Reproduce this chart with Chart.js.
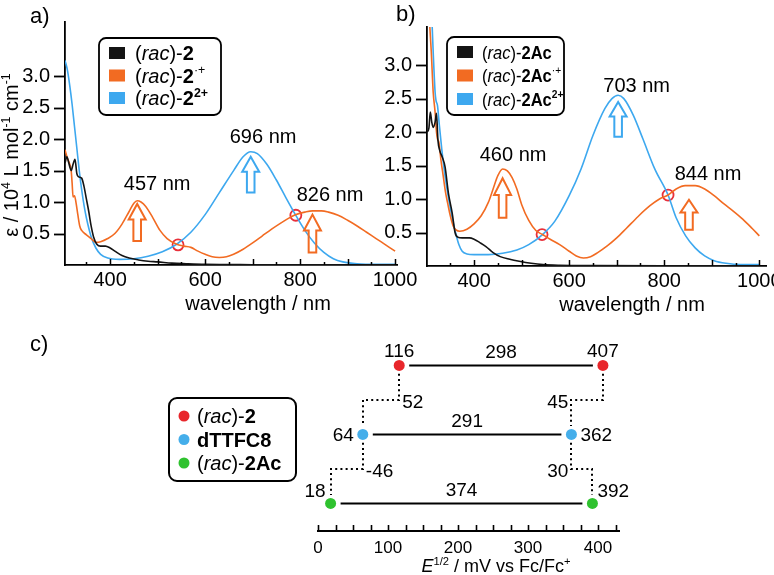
<!DOCTYPE html>
<html><head><meta charset="utf-8">
<script src="https://cdn.jsdelivr.net/npm/chart.js@4.4.0/dist/chart.umd.min.js"></script>
<style>
html,body{margin:0;padding:0;background:#fff;}
#wrap{position:relative;width:774px;height:575px;overflow:hidden;}
canvas{position:absolute;left:0;top:0;}
</style></head><body>
<div id="wrap">
<canvas id="ca" width="774" height="575"></canvas>
<canvas id="cb" width="774" height="575"></canvas>
<canvas id="cc" width="774" height="575"></canvas>
</div>
<script>
// ---------------- DATA ----------------
const X_TICK_LABELS = [400, 600, 800, 1000];
const Y_TICK_LABELS = [0.5, 1.0, 1.5, 2.0, 2.5, 3.0];

// Panel a: (rac)-2
const A_BLACK_X = [305,309,313,318,322,326,330,334,340,345,350,355,360,365,372,380,390,400,410,425,440,460,480,500,530,560,600,700,800,900,1000];
const A_BLACK_Y = [1.62,1.72,1.62,1.5,1.6,1.68,1.45,1.4,1.38,1.25,1.05,0.85,0.62,0.45,0.33,0.3,0.3,0.27,0.22,0.15,0.11,0.08,0.06,0.05,0.03,0.02,0.01,0.005,0.003,0.002,0.002];
const A_ORANGE_X = [305,310,315,318,320,322,325,328,332,336,340,350,360,370,380,395,410,425,440,450,457,465,475,490,505,520,540,555,570,585,600,615,630,645,660,680,700,720,740,760,780,790,810,826,845,860,880,900,920,940,960,980,1000];
const A_ORANGE_Y = [1.83,1.7,1.6,1.5,1.3,1.08,1.1,1.0,0.8,0.62,0.55,0.48,0.42,0.36,0.37,0.42,0.5,0.65,0.85,0.98,1.02,1.0,0.93,0.75,0.55,0.42,0.33,0.3,0.28,0.22,0.17,0.13,0.12,0.13,0.17,0.25,0.35,0.46,0.57,0.67,0.76,0.8,0.84,0.86,0.86,0.84,0.79,0.71,0.62,0.52,0.42,0.32,0.22];
const A_BLUE_X = [305,310,315,320,325,330,335,340,345,350,360,370,380,395,420,450,480,510,540,570,600,630,660,680,696,710,730,750,770,790,810,830,850,870,890,920,960,1000];
const A_BLUE_Y = [3.25,3.1,2.85,2.55,2.2,1.85,1.5,1.2,0.95,0.75,0.45,0.27,0.17,0.11,0.09,0.1,0.14,0.21,0.33,0.52,0.8,1.15,1.5,1.72,1.8,1.77,1.6,1.35,1.07,0.8,0.55,0.35,0.2,0.1,0.05,0.02,0.01,0.01];
const A_ISO_X = [543, 791];
const A_ISO_Y = [0.32, 0.79];
const A_ARROW_X = [457, 696, 826];
const A_ARROW_FROM = [0.38, 1.15, 0.2];
const A_ARROW_TO = [0.97, 1.72, 0.8];
const A_PEAK_TEXT = ['457 nm', '696 nm', '826 nm'];
const A_PEAK_TX = [499, 722, 863];
const A_PEAK_TY = [1.3, 2.05, 1.13];

// Panel b: (rac)-2Ac
const B_BLACK_X = [301,305,308,311,314,318,321,324,328,333,339,346,354,360,366,375,390,400,412,425,440,455,475,495,520,545,580,650,800,1000];
const B_BLACK_Y = [2.0,2.06,2.3,2.15,2.07,2.15,2.28,1.88,1.72,1.63,1.48,1.09,0.79,0.5,0.43,0.42,0.42,0.4,0.35,0.29,0.2,0.14,0.1,0.07,0.04,0.02,0.01,0.005,0.003,0.002];
const B_ORANGE_X = [301,305,310,314,318,321,323,326,330,335,340,345,350,356,362,370,385,400,415,430,440,450,460,470,480,490,500,515,530,544,560,580,600,615,630,645,660,680,700,720,745,770,790,808,825,844,865,885,905,925,945,965,985,1000];
const B_ORANGE_Y = [4.3,3.8,3.2,2.6,2.3,2.0,1.9,1.85,1.6,1.35,1.1,0.92,0.75,0.6,0.54,0.52,0.55,0.63,0.75,0.95,1.15,1.35,1.45,1.42,1.32,1.15,0.92,0.68,0.53,0.47,0.4,0.32,0.22,0.15,0.12,0.14,0.2,0.3,0.42,0.56,0.74,0.9,1.0,1.06,1.15,1.2,1.2,1.15,1.05,0.93,0.82,0.7,0.56,0.45];
const B_BLUE_X = [301,305,310,314,318,320,323,327,332,337,342,347,354,361,368,375,385,400,430,460,490,515,544,570,600,625,650,675,690,703,715,735,755,780,808,825,845,865,885,905,930,960,1000];
const B_BLUE_Y = [5.0,4.5,3.9,3.2,2.6,2.47,2.4,2.1,1.75,1.45,1.2,0.98,0.72,0.5,0.32,0.22,0.18,0.17,0.17,0.19,0.24,0.32,0.47,0.67,1.05,1.45,1.95,2.35,2.5,2.55,2.5,2.25,1.9,1.45,1.06,0.72,0.45,0.27,0.15,0.08,0.04,0.02,0.02];
const B_ISO_X = [543, 808];
const B_ISO_Y = [0.47, 1.06];
const B_ARROW_X = [460, 703, 852];
const B_ARROW_FROM = [0.72, 1.93, 0.54];
const B_ARROW_TO = [1.31, 2.45, 0.99];
const B_PEAK_TEXT = ['460 nm', '703 nm', '844 nm'];
const B_PEAK_TX = [482, 742, 892];
const B_PEAK_TY = [1.67, 2.7, 1.39];

// Panel c: E1/2 (mV vs Fc/Fc+)
const C_NAMES = ['(rac)-2', 'dTTFC8', '(rac)-2Ac'];
const C_E1 = [116, 64, 18];
const C_E2 = [407, 362, 392];
const C_ROW = [3, 2, 1];
const C_DELTA = ['298', '291', '374'];
const C_SHIFT_LEFT = ['52', '-46'];
const C_SHIFT_RIGHT = ['45', '30'];
const C_TICK_LABELS = [0, 100, 200, 300, 400];

// ---------------- STYLE / HELPERS ----------------
const FAM = '"Liberation Sans", Arial, Helvetica, sans-serif';
Chart.defaults.font.family = FAM;
Chart.defaults.color = '#000';
const COL_BLACK = '#141414', COL_ORANGE = '#f26b22', COL_BLUE = '#3da8ef';
const COL_ISO = '#e8303a';
const COL_RED = '#e8262b', COL_LBLUE = '#45aeea', COL_GREEN = '#2fc22f';

function fontStr(style, size){
  let f = '';
  if (style.includes('i')) f += 'italic ';
  if (style.includes('b')) f += 'bold ';
  return f + size + 'px ' + FAM;
}
function drawRich(ctx, x, yMid, segs, size, align, sx){
  sx = sx || 1;
  let w = 0;
  for (const [t, s] of segs){ ctx.font = fontStr(s, s.includes('s') ? size*0.62 : size); w += ctx.measureText(t).width * sx; }
  let cx = align === 'center' ? x - w/2 : (align === 'right' ? x - w : x);
  const base = yMid + size*0.36;
  ctx.textAlign = 'left'; ctx.textBaseline = 'alphabetic'; ctx.fillStyle = '#000';
  for (const [t, s] of segs){
    const sup = s.includes('s');
    ctx.font = fontStr(s, sup ? size*0.62 : size);
    ctx.save(); ctx.translate(cx, sup ? base - size*0.42 : base); ctx.scale(sx, 1);
    ctx.fillText(t, 0, 0); ctx.restore();
    cx += ctx.measureText(t).width * sx;
  }
}
function drawArrow(ctx, x, yB, yT, color){
  const L = yB - yT, hh = L*0.42, hw = 8.5, sw = 3.8;
  ctx.save();
  ctx.beginPath();
  ctx.moveTo(x-sw, yB); ctx.lineTo(x-sw, yT+hh); ctx.lineTo(x-hw, yT+hh); ctx.lineTo(x, yT);
  ctx.lineTo(x+hw, yT+hh); ctx.lineTo(x+sw, yT+hh); ctx.lineTo(x+sw, yB); ctx.closePath();
  ctx.lineWidth = 2; ctx.strokeStyle = color; ctx.lineJoin = 'miter'; ctx.stroke();
  ctx.restore();
}
function roundBox(ctx, x, y, w, h, r, lw){
  ctx.save(); ctx.beginPath();
  ctx.moveTo(x+r, y); ctx.lineTo(x+w-r, y); ctx.arcTo(x+w, y, x+w, y+r, r);
  ctx.lineTo(x+w, y+h-r); ctx.arcTo(x+w, y+h, x+w-r, y+h, r);
  ctx.lineTo(x+r, y+h); ctx.arcTo(x, y+h, x, y+h-r, r);
  ctx.lineTo(x, y+r); ctx.arcTo(x, y, x+r, y, r); ctx.closePath();
  ctx.fillStyle = '#fff'; ctx.fill();
  ctx.lineWidth = lw; ctx.strokeStyle = '#000'; ctx.stroke(); ctx.restore();
}
const zip = (xs, ys) => xs.map((x, i) => ({x, y: ys[i]}));
const AXIS_H = 40, AXIS_W = 60, AXIS_HC = 30;
const fixX = h => s => { s.height = h; s.paddingLeft = 0; s.paddingRight = 0; };
const fixY = w => s => { s.width = w; s.paddingTop = 0; s.paddingBottom = 0; };

// ---------------- SPECTRUM PANELS ----------------
function makeSpectrum(id, P){
  const lineDs = (xs, ys, c) => ({ data: zip(xs, ys), borderColor: c, borderWidth: 1.6, pointRadius: 0,
    fill: false, cubicInterpolationMode: 'monotone' });
  const datasets = [
    lineDs(P.bx, P.by, COL_BLACK), lineDs(P.ox, P.oy, COL_ORANGE), lineDs(P.ux, P.uy, COL_BLUE),
    { data: zip(P.isoX, P.isoY), showLine: false, pointRadius: 5.5, pointBorderColor: COL_ISO,
      pointBackgroundColor: 'rgba(0,0,0,0)', pointBorderWidth: 1.8 }
  ];
  const deco = {
    id: 'deco' + id,
    afterDatasetsDraw(chart){
      const ctx = chart.ctx, xs = chart.scales.x, ys = chart.scales.y;
      P.arX.forEach((v, i) => drawArrow(ctx, xs.getPixelForValue(v), ys.getPixelForValue(P.arFrom[i]),
        ys.getPixelForValue(P.arTo[i]), P.arCol[i]));
      P.pkText.forEach((t, i) => drawRich(ctx, xs.getPixelForValue(P.pkX[i]), ys.getPixelForValue(P.pkY[i]),
        [[t, 'n']], 20, 'center'));
    },
    afterDraw(chart){
      const ctx = chart.ctx, xs = chart.scales.x, ys = chart.scales.y, ca = chart.chartArea;
      ctx.save(); ctx.strokeStyle = '#000'; ctx.lineWidth = 1.5;
      for (let v = 350; v <= 1000; v += 50){
        const px = Math.round(xs.getPixelForValue(v)) + 0.5;
        const len = v % 100 === 0 ? 6 : 3;
        ctx.beginPath(); ctx.moveTo(px, ca.bottom); ctx.lineTo(px, ca.bottom - len); ctx.stroke();
      }
      ctx.lineWidth = 1.8;
      Y_TICK_LABELS.forEach(v => {
        const py = Math.round(ys.getPixelForValue(v)) + 0.5;
        ctx.beginPath(); ctx.moveTo(ca.left - 11, py); ctx.lineTo(ca.left, py); ctx.stroke();
      });
      ctx.restore();
      const L = P.leg;
      roundBox(ctx, L.x, L.y, L.w, L.h, 7, 1.8);
      P.legItems.forEach((it, i) => {
        const cy = L.y + L.r0 + i*L.dy;
        ctx.fillStyle = it.c; ctx.fillRect(L.x + L.sx, cy - 6, 16, 12);
        drawRich(ctx, L.x + L.tx, cy, it.segs, L.fs, 'left', L.scx);
      });
      drawRich(ctx, ca.left + P.titleDx, ca.bottom + 38, [['wavelength / nm', 'n']], 20, 'center');
      drawRich(ctx, P.letter[1], P.letter[2], [[P.letter[0], 'n']], 22, 'left');
      if (P.yTitle){
        ctx.save(); ctx.translate(11, 155); ctx.rotate(-Math.PI/2);
        drawRich(ctx, 0, 0, [['\u03b5 / 10', 'n'], ['4', 's'], [' L mol', 'n'], ['-1', 's'], [' cm', 'n'], ['-1', 's']], 20, 'center');
        ctx.restore();
      }
    }
  };
  return new Chart(document.getElementById(id), {
    type: 'line',
    data: { datasets },
    options: {
      responsive: false, animation: false, devicePixelRatio: 1, events: [],
      layout: { autoPadding: false, padding: P.pad },
      plugins: { legend: { display: false }, tooltip: { enabled: false } },
      scales: {
        x: { type: 'linear', min: P.xmin, max: P.xmax, afterFit: fixX(AXIS_H),
          grid: { display: false, drawTicks: false }, border: { display: true, color: '#000', width: 1.8 },
          ticks: { stepSize: 200, includeBounds: false, maxRotation: 0, autoSkip: false, padding: 3,
            font: { size: 20 }, color: '#000',
            callback: v => X_TICK_LABELS.includes(v) ? String(v) : '' } },
        y: { type: 'linear', min: 0, max: P.ymax, afterFit: fixY(AXIS_W),
          grid: { display: false, drawTicks: false }, border: { display: true, color: '#000', width: 1.8 },
          ticks: { stepSize: 0.5, includeBounds: false, padding: 15, font: { size: 20 }, color: '#000',
            callback: v => Y_TICK_LABELS.includes(v) ? v.toFixed(1) : '' } }
      }
    },
    plugins: [deco]
  });
}

const rac = (tail) => [['(', 'n'], ['rac', 'i'], [')-', 'n']].concat(tail);

makeSpectrum('ca', {
  bx: A_BLACK_X, by: A_BLACK_Y, ox: A_ORANGE_X, oy: A_ORANGE_Y, ux: A_BLUE_X, uy: A_BLUE_Y,
  isoX: A_ISO_X, isoY: A_ISO_Y,
  arX: A_ARROW_X, arFrom: A_ARROW_FROM, arTo: A_ARROW_TO, arCol: [COL_ORANGE, COL_BLUE, COL_ORANGE],
  pkText: A_PEAK_TEXT, pkX: A_PEAK_TX, pkY: A_PEAK_TY,
  xmin: 305, xmax: 1004, ymax: 3.86,
  pad: { left: 65 - AXIS_W, top: 22, right: 774 - 397, bottom: 575 - 265 - AXIS_H },
  leg: { x: 99, y: 38, w: 122, h: 77, r0: 15, dy: 22.5, sx: 10, tx: 36, fs: 20, scx: 1 },
  legItems: [
    { c: COL_BLACK, segs: rac([['2', 'b']]) },
    { c: COL_ORANGE, segs: rac([['2', 'b'], ['\u00b7+', 's']]) },
    { c: COL_BLUE, segs: rac([['2', 'b'], ['2+', 'bs']]) }
  ],
  titleDx: 193, letter: ['a)', 30, 15], yTitle: true
});

makeSpectrum('cb', {
  bx: B_BLACK_X, by: B_BLACK_Y, ox: B_ORANGE_X, oy: B_ORANGE_Y, ux: B_BLUE_X, uy: B_BLUE_Y,
  isoX: B_ISO_X, isoY: B_ISO_Y,
  arX: B_ARROW_X, arFrom: B_ARROW_FROM, arTo: B_ARROW_TO, arCol: [COL_ORANGE, COL_BLUE, COL_ORANGE],
  pkText: B_PEAK_TEXT, pkX: B_PEAK_TX, pkY: B_PEAK_TY,
  xmin: 301, xmax: 1014, ymax: 3.57,
  pad: { left: 427 - AXIS_W, top: 27, right: 774 - 766, bottom: 575 - 266 - AXIS_H },
  leg: { x: 447, y: 37, w: 117, h: 78, r0: 15, dy: 23.5, sx: 10, tx: 35, fs: 19, scx: 0.87 },
  legItems: [
    { c: COL_BLACK, segs: rac([['2Ac', 'b']]) },
    { c: COL_ORANGE, segs: rac([['2Ac', 'b'], ['\u00b7+', 's']]) },
    { c: COL_BLUE, segs: rac([['2Ac', 'b'], ['2+', 'bs']]) }
  ],
  titleDx: 205, letter: ['b)', 396, 13], yTitle: false
});

// ---------------- PANEL C ----------------
const C_COLORS = [COL_RED, COL_LBLUE, COL_GREEN];
const cDatasets = C_NAMES.map((n, i) => ({
  label: n,
  data: [{x: C_E1[i], y: C_ROW[i]}, {x: C_E2[i], y: C_ROW[i]}],
  pointRadius: 5.5, pointBackgroundColor: C_COLORS[i], pointBorderWidth: 0, showLine: false
}));
const decoC = {
  id: 'decoC',
  beforeDatasetsDraw(chart){
    const ctx = chart.ctx, xs = chart.scales.x, ys = chart.scales.y;
    ctx.save();
    ctx.strokeStyle = '#000'; ctx.lineWidth = 2;
    C_ROW.forEach((r, i) => {
      const py = ys.getPixelForValue(r);
      ctx.beginPath(); ctx.moveTo(xs.getPixelForValue(C_E1[i]) + 10, py);
      ctx.lineTo(xs.getPixelForValue(C_E2[i]) - 10, py); ctx.stroke();
    });
    ctx.setLineDash([2, 3.2]); ctx.lineWidth = 2; ctx.lineCap = 'butt';
    const poly = pts => { ctx.beginPath(); pts.forEach(([vx, vy], k) => {
      const X = Math.round(xs.getPixelForValue(vx)), Y = ys.getPixelForValue(vy);
      if (k === 0) ctx.moveTo(X, Y); else ctx.lineTo(X, Y); }); ctx.stroke(); };
    for (let i = 0; i < C_ROW.length - 1; i++){
      const mid = (C_ROW[i] + C_ROW[i+1]) / 2;
      poly([[C_E1[i], C_ROW[i] - 0.12], [C_E1[i], mid], [C_E1[i+1], mid], [C_E1[i+1], C_ROW[i+1] + 0.12]]);
      poly([[C_E2[i], C_ROW[i] - 0.12], [C_E2[i], mid], [C_E2[i+1], mid], [C_E2[i+1], C_ROW[i+1] + 0.12]]);
    }
    ctx.restore();
  },
  afterDraw(chart){
    const ctx = chart.ctx, xs = chart.scales.x, ys = chart.scales.y, ca = chart.chartArea;
    const fs = 19;
    ctx.save(); ctx.strokeStyle = '#000'; ctx.lineWidth = 1.6;
    for (let v = 0; v <= 425; v += 25){
      const px = Math.round(xs.getPixelForValue(v)) + 0.5;
      ctx.beginPath(); ctx.moveTo(px, ca.bottom); ctx.lineTo(px, ca.bottom - 6); ctx.stroke();
    }
    ctx.restore();
    C_ROW.forEach((r, i) => {
      const py = ys.getPixelForValue(r);
      const x1 = xs.getPixelForValue(C_E1[i]), x2 = xs.getPixelForValue(C_E2[i]);
      drawRich(ctx, (x1 + x2) / 2, py - 14, [[C_DELTA[i], 'n']], fs, 'center');
      if (i === 0){
        drawRich(ctx, x1, py - 15, [[String(C_E1[i]), 'n']], fs, 'center');
        drawRich(ctx, x2, py - 15, [[String(C_E2[i]), 'n']], fs, 'center');
      } else if (i === 1){
        drawRich(ctx, x1 - 9, py, [[String(C_E1[i]), 'n']], fs, 'right');
        drawRich(ctx, x2 + 9, py, [[String(C_E2[i]), 'n']], fs, 'left');
      } else {
        const ly = py - 13;
        drawRich(ctx, x1 - 5, ly, [[String(C_E1[i]), 'n']], fs, 'right');
        drawRich(ctx, x2 + 5, ly, [[String(C_E2[i]), 'n']], fs, 'left');
      }
    });
    for (let i = 0; i < C_ROW.length - 1; i++){
      const mid = ys.getPixelForValue((C_ROW[i] + C_ROW[i+1]) / 2);
      const lx = xs.getPixelForValue(Math.max(C_E1[i], C_E1[i+1]));
      const rx = xs.getPixelForValue(Math.min(C_E2[i], C_E2[i+1]));
      drawRich(ctx, lx + 3, mid + 1, [[C_SHIFT_LEFT[i], 'n']], fs, 'left');
      drawRich(ctx, rx - 3, mid + 1, [[C_SHIFT_RIGHT[i], 'n']], fs, 'right');
    }
    roundBox(ctx, 169, 398, 127, 83, 8, 2);
    const segsC = [rac([['2', 'b']]), [['dTTFC8', 'b']], rac([['2Ac', 'b']])];
    segsC.forEach((s, i) => {
      const cy = 416 + i*23.5;
      ctx.beginPath(); ctx.arc(184, cy, 5.5, 0, Math.PI*2); ctx.fillStyle = C_COLORS[i]; ctx.fill();
      drawRich(ctx, 197, cy, s, 20, 'left');
    });
    drawRich(ctx, 496, 566, [['E', 'i'], ['1/2', 's'], [' / mV vs Fc/Fc', 'n'], ['+', 's']], 18, 'center');
    drawRich(ctx, 30, 343, [['c)', 'n']], 22, 'left');
  }
};
new Chart(document.getElementById('cc'), {
  type: 'scatter',
  data: { datasets: cDatasets },
  options: {
    responsive: false, animation: false, devicePixelRatio: 1, events: [],
    layout: { autoPadding: false, padding: { left: 318, top: 324, right: 774 - 619, bottom: 575 - 531 - AXIS_HC } },
    plugins: { legend: { display: false }, tooltip: { enabled: false } },
    scales: {
      x: { type: 'linear', min: 0, max: 430, afterFit: fixX(AXIS_HC),
        grid: { display: false, drawTicks: false }, border: { display: true, color: '#000', width: 2 },
        ticks: { stepSize: 100, includeBounds: false, maxRotation: 0, autoSkip: false, padding: 7,
          font: { size: 17 }, color: '#000',
          callback: v => C_TICK_LABELS.includes(v) ? String(v) : '' } },
      y: { type: 'linear', min: 0.6, max: 3.6, display: false }
    }
  },
  plugins: [decoC]
});
</script>
</body></html>
